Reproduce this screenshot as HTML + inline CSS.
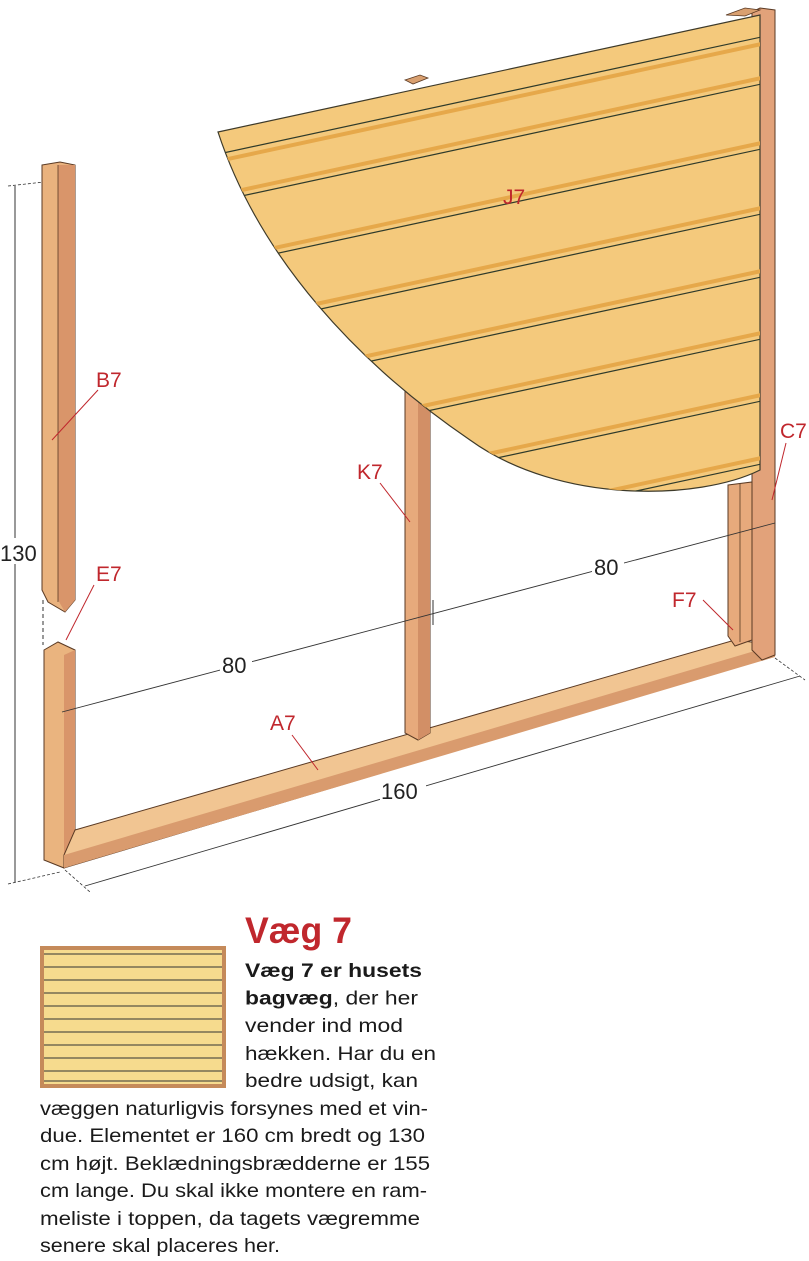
<!DOCTYPE html>
<html><head><meta charset="utf-8"><style>
html,body{margin:0;padding:0;background:#fff;}
svg{display:block;}
text{font-family:"Liberation Sans",sans-serif;}
</style></head><body>
<svg width="809" height="1261" viewBox="0 0 809 1261" xmlns="http://www.w3.org/2000/svg">
<defs>
<clipPath id="pc"><path d="M218,132 L760,15 L760,470 C700,500 560,505 470,440 C360,365 260,260 218,132 Z"/></clipPath>
</defs>
<line x1="15" y1="186" x2="15" y2="882" stroke="#333" stroke-width="1"/>
<line x1="8" y1="186" x2="44" y2="182" stroke="#333" stroke-width="0.8" stroke-dasharray="3,2"/>
<line x1="8" y1="884" x2="60" y2="872" stroke="#333" stroke-width="0.8" stroke-dasharray="3,2"/>
<rect x="0" y="538" width="40" height="26" fill="#fff"/>
<text x="0" y="561" font-size="22" fill="#222">130</text>
<line x1="43" y1="600" x2="43" y2="645" stroke="#333" stroke-dasharray="4,3"/>

<polygon points="42,165 60,162 75,165 75,600 65,612 48,602 42,590" fill="#e9b27e" stroke="#5a3a24" stroke-width="1"/>
<polygon points="58,165 75,165 75,600 65,612 58,600" fill="#d9956a"/>
<line x1="58" y1="165" x2="58" y2="602" stroke="#5a3a24" stroke-width="0.8"/>
<polygon points="44,650 58,642 75,650 75,860 64,868 44,860" fill="#eab47f" stroke="#5a3a24" stroke-width="1"/>
<polygon points="64,655 75,650 75,860 64,868" fill="#d9956a"/>

<polygon points="75,830 735,640 775,645 775,655 64,868 64,855" fill="#f1c592" stroke="#5a3a24" stroke-width="1"/>
<polygon points="64,855 775,645 775,657 64,868" fill="#d99b6e"/>

<polygon points="405,385 420,383 430,386 430,733 418,740 405,733" fill="#e7aa7c" stroke="#5a3a24" stroke-width="1"/>
<polygon points="418,385 430,386 430,733 418,740" fill="#d28f66"/>

<polygon points="728,485 752,482 752,640 735,646 728,636" fill="#e7aa7c" stroke="#5a3a24" stroke-width="1"/>
<line x1="740" y1="484" x2="740" y2="642" stroke="#5a3a24" stroke-width="0.8"/>
<polygon points="752,12 760,8 775,10 775,655 762,660 752,650" fill="#e2a27a" stroke="#5a3a24" stroke-width="1"/>
<polygon points="726,15 745,8 760,10 745,16" fill="#d9a070" stroke="#5a3a24" stroke-width="0.8"/>
<polygon points="405,80 420,75 428,78 413,84" fill="#d9a070" stroke="#5a3a24" stroke-width="0.8"/>

<path d="M218,132 L760,15 L760,470 C700,500 560,505 470,440 C360,365 260,260 218,132 Z" fill="#f4c97c" stroke="#3d3a2a" stroke-width="1.2"/>
<g clip-path="url(#pc)" stroke="#2e3a2a" stroke-width="1.2">
<line x1="200" y1="205" x2="780" y2="80" /><line x1="200" y1="199" x2="780" y2="74" stroke="#e6a84a" stroke-width="4"/>
<line x1="200" y1="158" x2="780" y2="33"/><line x1="200" y1="165" x2="780" y2="40" stroke="#e6a84a" stroke-width="4"/>
<line x1="200" y1="270" x2="780" y2="145"/><line x1="200" y1="264" x2="780" y2="139" stroke="#e6a84a" stroke-width="4"/>
<line x1="200" y1="335" x2="780" y2="210"/><line x1="200" y1="329" x2="780" y2="204" stroke="#e6a84a" stroke-width="4"/>
<line x1="200" y1="398" x2="780" y2="273"/><line x1="200" y1="392" x2="780" y2="267" stroke="#e6a84a" stroke-width="4"/>
<line x1="200" y1="460" x2="780" y2="335"/><line x1="200" y1="454" x2="780" y2="329" stroke="#e6a84a" stroke-width="4"/>
<line x1="200" y1="522" x2="780" y2="397"/><line x1="200" y1="516" x2="780" y2="391" stroke="#e6a84a" stroke-width="4"/>
<line x1="200" y1="585" x2="780" y2="460"/><line x1="200" y1="579" x2="780" y2="454" stroke="#e6a84a" stroke-width="4"/>
</g>
<text x="503" y="204" font-size="21" fill="#c0272d">J7</text>

<line x1="62" y1="712" x2="775" y2="523" stroke="#333" stroke-width="0.9"/>
<line x1="433" y1="600" x2="433" y2="625" stroke="#333"/>
<rect x="220" y="650" width="32" height="26" fill="#fff"/>
<text x="222" y="673" font-size="22" fill="#222">80</text>
<rect x="592" y="552" width="32" height="26" fill="#fff"/>
<text x="594" y="575" font-size="22" fill="#222">80</text>
<line x1="85" y1="886" x2="800" y2="676" stroke="#333" stroke-width="0.9"/>
<line x1="65" y1="870" x2="90" y2="892" stroke="#333" stroke-width="0.8" stroke-dasharray="3,2"/>
<line x1="775" y1="658" x2="805" y2="680" stroke="#333" stroke-width="0.8" stroke-dasharray="3,2"/>
<rect x="380" y="775" width="46" height="28" fill="#fff"/>
<text x="381" y="799" font-size="22" fill="#222">160</text>

<g fill="#c0272d" font-size="21">
<text x="96" y="387">B7</text>
<text x="96" y="581">E7</text>
<text x="357" y="479">K7</text>
<text x="270" y="730">A7</text>
<text x="672" y="607">F7</text>
<text x="780" y="438">C7</text>
</g>
<g stroke="#c0272d" stroke-width="1">
<line x1="98" y1="390" x2="52" y2="440"/>
<line x1="94" y1="585" x2="66" y2="640"/>
<line x1="380" y1="483" x2="410" y2="522"/>
<line x1="292" y1="735" x2="318" y2="770"/>
<line x1="703" y1="600" x2="733" y2="630"/>
<line x1="786" y1="443" x2="772" y2="500"/>
</g>

<rect x="40" y="946" width="186" height="142" fill="#c58a5a"/>
<rect x="44" y="950" width="178" height="134" fill="#f6db8e"/>
<g stroke="#333" stroke-width="1">
<line x1="44" y1="954" x2="222" y2="954"/><line x1="44" y1="967" x2="222" y2="967"/>
<line x1="44" y1="980" x2="222" y2="980"/><line x1="44" y1="993" x2="222" y2="993"/>
<line x1="44" y1="1006" x2="222" y2="1006"/><line x1="44" y1="1019" x2="222" y2="1019"/>
<line x1="44" y1="1032" x2="222" y2="1032"/><line x1="44" y1="1045" x2="222" y2="1045"/>
<line x1="44" y1="1058" x2="222" y2="1058"/><line x1="44" y1="1071" x2="222" y2="1071"/>
<line x1="44" y1="1081" x2="222" y2="1081"/>
</g>

<text x="245" y="943" font-size="37" font-weight="bold" fill="#c0272d" textLength="107" lengthAdjust="spacingAndGlyphs">Væg 7</text>
<g font-size="19.5" fill="#1a1a1a">
<text x="245" y="977" font-weight="bold" textLength="177" lengthAdjust="spacingAndGlyphs">Væg 7 er husets</text>
<text x="245" y="1004.5" textLength="173" lengthAdjust="spacingAndGlyphs"><tspan font-weight="bold">bagvæg</tspan>, der her</text>
<text x="245" y="1032" textLength="158" lengthAdjust="spacingAndGlyphs">vender ind mod</text>
<text x="245" y="1060" textLength="191" lengthAdjust="spacingAndGlyphs">hækken. Har du en</text>
<text x="245" y="1087" textLength="173" lengthAdjust="spacingAndGlyphs">bedre udsigt, kan</text>
<text x="40" y="1115" textLength="388" lengthAdjust="spacingAndGlyphs">væggen naturligvis forsynes med et vin-</text>
<text x="40" y="1142" textLength="385" lengthAdjust="spacingAndGlyphs">due. Elementet er 160 cm bredt og 130</text>
<text x="40" y="1170" textLength="390" lengthAdjust="spacingAndGlyphs">cm højt. Beklædningsbrædderne er 155</text>
<text x="40" y="1197" textLength="387" lengthAdjust="spacingAndGlyphs">cm lange. Du skal ikke montere en ram-</text>
<text x="40" y="1225" textLength="380" lengthAdjust="spacingAndGlyphs">meliste i toppen, da tagets vægremme</text>
<text x="40" y="1252" textLength="240" lengthAdjust="spacingAndGlyphs">senere skal placeres her.</text>
</g>
</svg>
</body></html>
